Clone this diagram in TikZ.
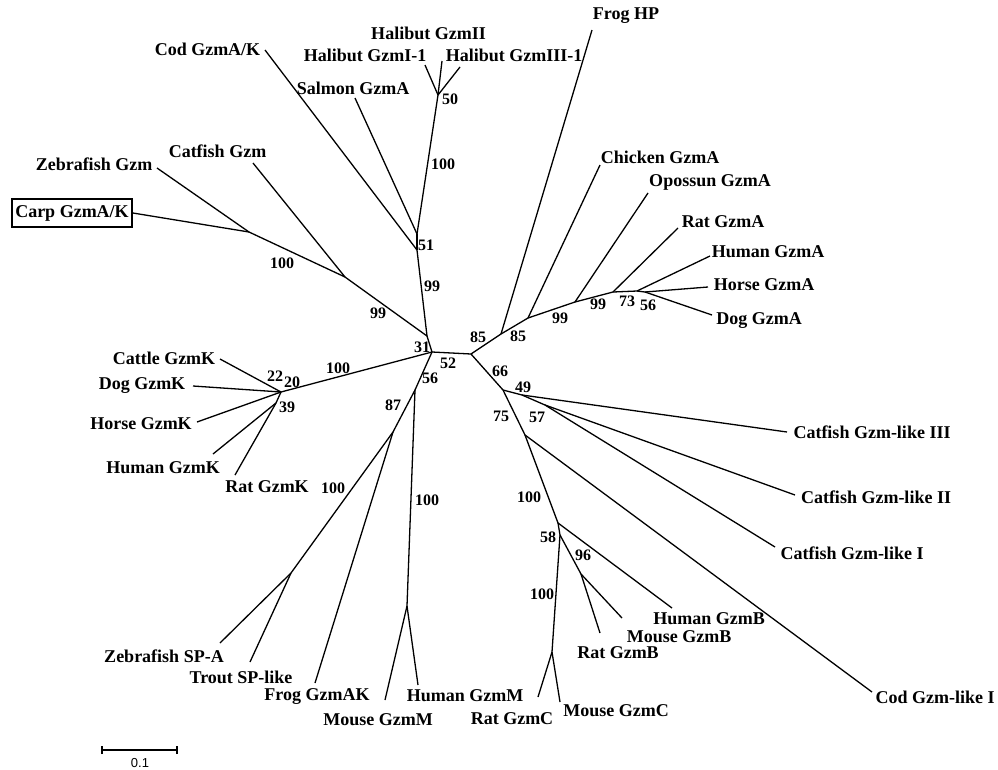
\documentclass[tikz,border=0pt]{standalone}
\usepackage{fontspec}
\setmainfont{Liberation Serif}
\setsansfont{Liberation Sans}
\begin{document}
\begin{tikzpicture}[x=1pt,y=-1pt,
  br/.style={line width=1.3pt,black},
  lab/.style={inner sep=0pt,anchor=center,font=\bfseries\fontsize{18}{20}\selectfont},
  bs/.style={inner sep=0pt,anchor=center,font=\bfseries\fontsize{16}{18}\selectfont}]
\useasboundingbox (0,0) rectangle (998,769);
% internal nodes
\coordinate (A) at (432,352);
\coordinate (G) at (427,336);
\coordinate (B) at (471,354);
\coordinate (C) at (415,390);
\coordinate (D) at (501,334);
\coordinate (E) at (503,390);
\coordinate (H) at (345,277);
\coordinate (I) at (249,232);
\coordinate (F) at (417,250);
\coordinate (J) at (417,234);
\coordinate (K) at (438,95);
\coordinate (L) at (528,318);
\coordinate (M) at (575,302);
\coordinate (N) at (613,292);
\coordinate (O) at (637,291);
\coordinate (P) at (645,292);
\coordinate (Q) at (522,395);
\coordinate (R) at (545,405);
\coordinate (S) at (525,435);
\coordinate (T) at (558,523);
\coordinate (U) at (560,535);
\coordinate (V) at (581,574);
\coordinate (W) at (552,652);
\coordinate (X) at (407,606);
\coordinate (Y) at (393,432);
\coordinate (Z) at (291,573);
\coordinate (K0) at (281,392);
\coordinate (K1) at (276,403);
% tips
\coordinate (tCatfishGzm) at (253,163);
\coordinate (tZebra) at (157,168);
\coordinate (tCod) at (265,50);
\coordinate (tSalmon) at (355,98);
\coordinate (tHal1) at (425,65);
\coordinate (tHal2) at (442,61);
\coordinate (tHal3) at (460,67);
\coordinate (tFrogHP) at (592,30);
\coordinate (tChicken) at (600,165);
\coordinate (tOpossum) at (648,193);
\coordinate (tRatA) at (678,228);
\coordinate (tHumanA) at (710,256);
\coordinate (tHorseA) at (708,287);
\coordinate (tDogA) at (712,315);
\coordinate (tCat3) at (787,432);
\coordinate (tCat2) at (795,495);
\coordinate (tCat1) at (775,547);
\coordinate (tCodL) at (872,692);
\coordinate (tHumanB) at (672,608);
\coordinate (tMouseB) at (622,618);
\coordinate (tRatB) at (600,633);
\coordinate (tRatC) at (538,697);
\coordinate (tMouseC) at (560,702);
\coordinate (tHumanM) at (418,685);
\coordinate (tMouseM) at (385,700);
\coordinate (tFrogAK) at (315,683);
\coordinate (tZSPA) at (220,643);
\coordinate (tTrout) at (250,662);
\coordinate (tCattleK) at (220,359);
\coordinate (tDogK) at (193,386);
\coordinate (tHorseK) at (197,422);
\coordinate (tHumanK) at (213,454);
\coordinate (tRatK) at (235,475);
% labels
\node[lab] (lCod) at (207.5,49.3) {Cod GzmA/K};
\node[lab] (lHal2) at (428.5,33.7) {Halibut GzmII};
\node[lab] (lHal1) at (365,55) {Halibut GzmI-1};
\node[lab] (lHal3) at (514,55) {Halibut GzmIII-1};
\node[lab] (lSalmon) at (353,88) {Salmon GzmA};
\node[lab] (lFrogHP) at (626,16) {Frog HP};
\node[lab] (lZebra) at (94,164) {Zebrafish Gzm};
\node[lab] (lCatfish) at (217.5,151.7) {Catfish Gzm};
\node[lab,draw,line width=1.8pt,minimum width=120pt,minimum height=28pt] (lCarp) at (72,213) {Carp GzmA/K};
\node[lab] (lChicken) at (660,157) {Chicken GzmA};
\node[lab] (lOpossum) at (710,182) {Opossun GzmA};
\node[lab] (lRatA) at (723,222) {Rat GzmA};
\node[lab] (lHumanA) at (768,252) {Human GzmA};
\node[lab] (lHorseA) at (764,285) {Horse GzmA};
\node[lab] (lDogA) at (759,321) {Dog GzmA};
\node[lab] (lCat3) at (872,432) {Catfish Gzm-like III};
\node[lab] (lCat2) at (876,497) {Catfish Gzm-like II};
\node[lab] (lCat1) at (852,553) {Catfish Gzm-like I};
\node[lab] (lCodL) at (935,697) {Cod Gzm-like I};
\node[lab] (lHumanB) at (709,619) {Human GzmB};
\node[lab] (lMouseB) at (679,637) {Mouse GzmB};
\node[lab] (lRatB) at (618,653) {Rat GzmB};
\node[lab] (lRatC) at (512,719) {Rat GzmC};
\node[lab] (lMouseC) at (616,711) {Mouse GzmC};
\node[lab] (lHumanM) at (465,696) {Human GzmM};
\node[lab] (lMouseM) at (378,720) {Mouse GzmM};
\node[lab] (lFrogAK) at (317,697) {Frog GzmAK};
\node[lab] (lZSPA) at (164,656) {Zebrafish SP-A};
\node[lab] (lTrout) at (241,677) {Trout SP-like};
\node[lab] (lCattleK) at (164,358) {Cattle GzmK};
\node[lab] (lDogK) at (142,386) {Dog GzmK};
\node[lab] (lHorseK) at (141,424) {Horse GzmK};
\node[lab] (lHumanK) at (163,468) {Human GzmK};
\node[lab] (lRatK) at (267,487) {Rat GzmK};
% branches
\draw[br] (A) -- (G);
\draw[br] (A) -- (B);
\draw[br] (A) -- (C);
\draw[br] (A) -- (K0);
\draw[br] (B) -- (D);
\draw[br] (B) -- (E);
% fish GzmA/K clade
\draw[br] (G) -- (H);
\draw[br] (H) -- (tCatfishGzm);
\draw[br] (H) -- (I);
\draw[br] (I) -- (tZebra);
\draw[br] (I) -- (lCarp.east);
\draw[br] (G) -- (F);
\draw[br] (F) -- (tCod);
\draw[br] (F) -- (J);
\draw[br] (J) -- (tSalmon);
\draw[br] (J) -- (K);
\draw[br] (K) -- (tHal1);
\draw[br] (K) -- (tHal2);
\draw[br] (K) -- (tHal3);
% GzmA clade
\draw[br] (D) -- (tFrogHP);
\draw[br] (D) -- (L);
\draw[br] (L) -- (tChicken);
\draw[br] (L) -- (M);
\draw[br] (M) -- (tOpossum);
\draw[br] (M) -- (N);
\draw[br] (N) -- (tRatA);
\draw[br] (N) -- (O);
\draw[br] (O) -- (tHumanA);
\draw[br] (O) -- (P);
\draw[br] (P) -- (tHorseA);
\draw[br] (P) -- (tDogA);
% catfish Gzm-like
\draw[br] (E) -- (Q);
\draw[br] (Q) -- (tCat3);
\draw[br] (Q) -- (R);
\draw[br] (R) -- (tCat2);
\draw[br] (R) -- (tCat1);
% GzmB / C
\draw[br] (E) -- (S);
\draw[br] (S) -- (tCodL);
\draw[br] (S) -- (T);
\draw[br] (T) -- (tHumanB);
\draw[br] (T) -- (U);
\draw[br] (U) -- (V);
\draw[br] (V) -- (tMouseB);
\draw[br] (V) -- (tRatB);
\draw[br] (U) -- (W);
\draw[br] (W) -- (tRatC);
\draw[br] (W) -- (tMouseC);
% GzmM / SP
\draw[br] (C) -- (X);
\draw[br] (X) -- (tHumanM);
\draw[br] (X) -- (tMouseM);
\draw[br] (C) -- (Y);
\draw[br] (Y) -- (tFrogAK);
\draw[br] (Y) -- (Z);
\draw[br] (Z) -- (tZSPA);
\draw[br] (Z) -- (tTrout);
% GzmK
\draw[br] (K0) -- (tCattleK);
\draw[br] (K0) -- (tDogK);
\draw[br] (K0) -- (tHorseK);
\draw[br] (K0) -- (K1);
\draw[br] (K1) -- (tHumanK);
\draw[br] (K1) -- (tRatK);
% bootstrap values
\node[bs] (b50) at (450,99) {50};
\node[bs] (b100h) at (443,164) {100};
\node[bs] (b51) at (426,245) {51};
\node[bs] (b99v) at (432,286) {99};
\node[bs] (b31) at (422,347) {31};
\node[bs] (b99l) at (378,313) {99};
\node[bs] (b100c) at (282,263) {100};
\node[bs] (b85a) at (478,337) {85};
\node[bs] (b85b) at (518,336) {85};
\node[bs] (b99a) at (560,318) {99};
\node[bs] (b99b) at (598,304) {99};
\node[bs] (b73) at (627,301) {73};
\node[bs] (b56a) at (648,305) {56};
\node[bs] (b52) at (448,363) {52};
\node[bs] (b56) at (430,378) {56};
\node[bs] (b66) at (500,371) {66};
\node[bs] (b49) at (523,387) {49};
\node[bs] (b75) at (501,416) {75};
\node[bs] (b57) at (537,417) {57};
\node[bs] (b100s) at (529,497) {100};
\node[bs] (b58) at (548,537) {58};
\node[bs] (b96) at (583,555) {96};
\node[bs] (b100gc) at (542,594) {100};
\node[bs] (b87) at (393,405) {87};
\node[bs] (b100m) at (427,500) {100};
\node[bs] (b100y) at (333,488) {100};
\node[bs] (b100k) at (338,368) {100};
\node[bs] (b22) at (275,376) {22};
\node[bs] (b20) at (292,382) {20};
\node[bs] (b39) at (287,407) {39};
% scale bar
\coordinate (s1) at (102,750);
\coordinate (s2) at (177,750);
\draw[line width=1.4pt] (s1) -- (s2);
\draw[line width=1.4pt] ([yshift=-4pt]s1) -- ([yshift=4pt]s1);
\draw[line width=1.4pt] ([yshift=-4pt]s2) -- ([yshift=4pt]s2);
\node[inner sep=0pt,font=\sffamily\fontsize{13}{14}\selectfont] (sl) at (140,763) {0.1};
\end{tikzpicture}
\end{document}
